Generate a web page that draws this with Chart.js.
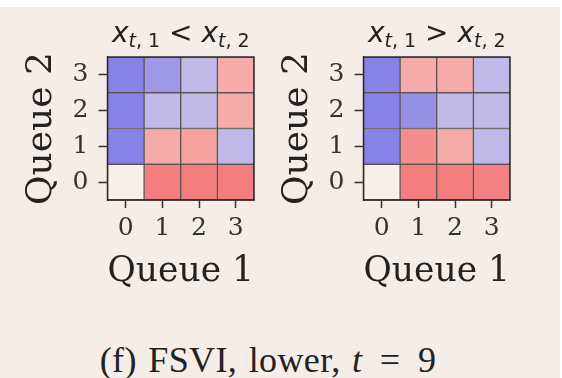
<!DOCTYPE html>
<html>
<head>
<meta charset="utf-8">
<script src="https://cdn.jsdelivr.net/npm/chart.js@4.4.0/dist/chart.umd.min.js"></script>
<style>
  html, body { margin: 0; padding: 0; background: #fff; }
  #page { position: absolute; left: 0; top: 7px; width: 560px; height: 371px; background: #f5ede8; }
  canvas { position: absolute; top: 0; }
  #c1 { left: 0; }
  #c2 { left: 256px; }
  #caption { position: absolute; left: 0; width: 536px; top: 342px; text-align: center;
             font: 36px/36px "Liberation Serif", serif; color: #222; white-space: nowrap;
             word-spacing: 2px; letter-spacing: 0.4px; }
  #caption .eq { margin: 0 6px; }
</style>
</head>
<body>
<div id="page"></div>
<canvas id="c1" width="270" height="300"></canvas>
<canvas id="c2" width="270" height="300"></canvas>
<div id="caption">(f) FSVI, lower, <i>t</i> <span class="eq">=</span> 9</div>
<script>
// axis categories
const queue1Labels = ['0', '1', '2', '3'];
const queue2Labels = ['0', '1', '2', '3'];
const xTitle = 'Queue 1';
const yTitle = 'Queue 2';

// cell values, one array per Queue 2 row (row 0 at the bottom), -1 = blue, 1 = red
const leftRow0 = [0, 1, 1, 1];
const leftRow1 = [-1, 0.6, 0.68, -0.5];
const leftRow2 = [-1, -0.5, -0.5, 0.6];
const leftRow3 = [-1, -0.8, -0.5, 0.6];

const rightRow0 = [0, 1, 1, 0.97];
const rightRow1 = [-1, 0.86, 0.6, -0.5];
const rightRow2 = [-1, -0.88, -0.5, -0.5];
const rightRow3 = [-1, 0.6, 0.6, -0.5];

// titles as math pieces: [text, style]
const leftTitle = [['x', 'var'], ['t', 'subvar'], [', 1', 'sub'], [' < ', 'op'], ['x', 'var'], ['t', 'subvar'], [', 2', 'sub']];
const rightTitle = [['x', 'var'], ['t', 'subvar'], [', 1', 'sub'], [' > ', 'op'], ['x', 'var'], ['t', 'subvar'], [', 2', 'sub']];

const BLUE = [137, 130, 230];
const MID = [247, 239, 234];
const RED = [244, 126, 126];

function cellColor(v) {
    const end = v < 0 ? BLUE : RED;
    const t = Math.abs(v);
    const c = MID.map((m, i) => Math.round(m + (end[i] - m) * t));
    return 'rgb(' + c.join(',') + ')';
}

const pieceFonts = {
    var: 'italic 28px "DejaVu Sans"',
    subvar: 'italic 19px "DejaVu Sans"',
    sub: '19px "DejaVu Sans"',
    op: '28px "DejaVu Sans"'
};

const mathTitle = {
    id: 'mathTitle',
    afterDraw(chart, args, opts) {
        const ctx = chart.ctx;
        const area = chart.chartArea;
        let w = 0;
        opts.parts.forEach(p => {
            ctx.font = pieceFonts[p[1]];
            w += ctx.measureText(p[0]).width;
        });
        let x = (area.left + area.right) / 2 - w / 2;
        ctx.save();
        ctx.fillStyle = '#222';
        ctx.textBaseline = 'alphabetic';
        opts.parts.forEach(p => {
            ctx.font = pieceFonts[p[1]];
            const dy = p[1].startsWith('sub') ? 5 : 0;
            ctx.fillText(p[0], x, 42 + dy);
            x += ctx.measureText(p[0]).width;
        });
        ctx.restore();
    }
};

const frame = {
    id: 'frame',
    afterDatasetsDraw(chart) {
        const ctx = chart.ctx;
        const a = chart.chartArea;
        ctx.save();
        ctx.strokeStyle = '#2a2a2a';
        ctx.lineWidth = 1.5;
        ctx.strokeRect(a.left, a.top, a.right - a.left, a.bottom - a.top);
        ctx.restore();
    }
};

function makeHeatmap(id, rows, title) {
    const datasets = rows.map((row, q2) => ({
        data: row.map(() => [q2 - 0.5, q2 + 0.5]),
        backgroundColor: row.map(cellColor),
        borderColor: 'rgba(55, 45, 45, 0.75)',
        borderWidth: 1,
        borderSkipped: false,
        grouped: false,
        barPercentage: 1,
        categoryPercentage: 1
    }));
    const tickFont = { family: 'DejaVu Serif', size: 25, lineHeight: 1 };
    const axisFont = { family: 'DejaVu Serif', size: 36, lineHeight: 1 };
    new Chart(document.getElementById(id), {
        type: 'bar',
        data: { labels: queue1Labels, datasets: datasets },
        options: {
            responsive: false,
            animation: false,
            layout: { padding: { left: 0, top: 57, right: 16, bottom: 0 } },
            plugins: {
                legend: { display: false },
                tooltip: { enabled: false },
                mathTitle: { parts: title }
            },
            scales: {
                x: {
                    type: 'category',
                    offset: true,
                    grid: { offset: false, drawOnChartArea: false, tickLength: 8, tickColor: '#333', tickWidth: 1.5 },
                    border: { display: true, color: '#2a2a2a', width: 1.5 },
                    ticks: { color: '#333', font: tickFont, padding: 8, maxRotation: 0 },
                    title: { display: true, text: xTitle, color: '#222', font: axisFont, padding: { top: 0, bottom: 10 } },
                    afterFit: s => { s.height = 100; }
                },
                y: {
                    type: 'linear',
                    min: -0.5,
                    max: 3.5,
                    afterBuildTicks: s => { s.ticks = queue2Labels.map((_, i) => ({ value: i })); },
                    grid: { drawOnChartArea: false, tickLength: 9, tickColor: '#333', tickWidth: 1.5 },
                    border: { display: true, color: '#2a2a2a', width: 1.5 },
                    ticks: { color: '#333', font: tickFont, padding: 10, callback: v => queue2Labels[v] },
                    title: { display: true, text: yTitle, color: '#222', font: axisFont, padding: { top: 24, bottom: 0 } },
                    afterFit: s => { s.width = 107.5; }
                }
            }
        },
        plugins: [mathTitle, frame]
    });
}

makeHeatmap('c1', [leftRow0, leftRow1, leftRow2, leftRow3], leftTitle);
makeHeatmap('c2', [rightRow0, rightRow1, rightRow2, rightRow3], rightTitle);
</script>
</body>
</html>
